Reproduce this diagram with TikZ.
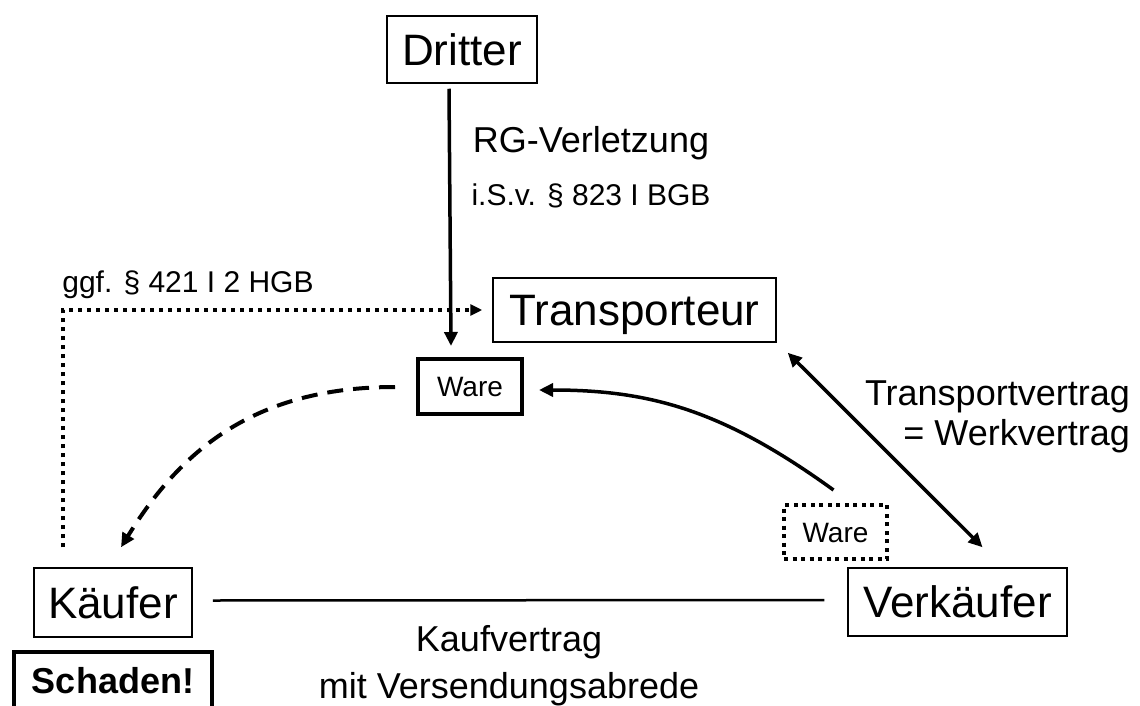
\documentclass[tikz,border=0pt]{standalone}
\usepackage{fontspec}
\setmainfont{Liberation Sans}
\usetikzlibrary{arrows.meta,calc}
\tikzset{
  party/.style={draw, line width=1.5pt, inner sep=0pt, font=\fontsize{44}{48}\selectfont, text height=35pt, text depth=3.5pt},
  warebox/.style={draw, line width=4pt, inner sep=0pt, font=\fontsize{28}{32}\selectfont, text height=22.4pt, text depth=2.2pt},
  waredot/.style={draw, line width=4pt, dash pattern=on 4pt off 4.5pt, inner sep=0pt, font=\fontsize{28}{32}\selectfont, text height=22.4pt, text depth=2.2pt},
  lab/.style={inner sep=0pt, anchor=base},
  big/.style={font=\fontsize{36}{40}\selectfont},
  small/.style={font=\fontsize{30}{34}\selectfont},
  conn/.style={line width=3.5pt},
  tip/.style={-{Triangle[length=14pt,width=13pt]}},
}
\begin{document}
\begin{tikzpicture}[x=1pt,y=-1pt]
\clip (0,0) rectangle (1140,706);
\useasboundingbox (0,0) rectangle (1140,706);
% nodes
\node[party, minimum width=150pt, minimum height=67pt] (Dritter) at (462,49.5) {Dritter};
\node[party, minimum width=283pt, minimum height=64pt] (Transporteur) at (634.5,310) {Transporteur};
\node[warebox, minimum width=104pt, minimum height=55pt] (Ware) at (470,386.5) {Ware};
\node[waredot, minimum width=103pt, minimum height=54pt] (WareD) at (835.5,532) {Ware};
\node[party, minimum width=158pt, minimum height=69pt] (Kaeufer) at (113,602.5) {Käufer};
\node[party, minimum width=219pt, minimum height=68pt] (Verkaeufer) at (957.5,602) {Verkäufer};
\node[draw, line width=4pt, inner sep=0pt, minimum width=198pt, text height=41pt, text depth=60pt, anchor=base,
      font=\bfseries\fontsize{36}{40}\selectfont] (Schaden) at (113,693) {Schaden!};
% labels
\node[lab, big] (rg) at (591,153) {RG-Verletzung};
\node[lab, small] (isv) at (591,205) {i.S.v. § 823 I BGB};
\node[lab, small] (ggf) at (188,292) {ggf. § 421 I 2 HGB};
\node[lab, big, anchor=base east] (tv1) at (1130,405) {Transportvertrag};
\node[lab, big, anchor=base east] (tv2) at (1130,445) {= Werkvertrag};
\node[lab, big] (kv1) at (509,651) {Kaufvertrag};
\node[lab, big] (kv2) at (509,698) {mit Versendungsabrede};
% connectors
\coordinate (dA) at ($(Dritter.south)+(-13,5)$);
\coordinate (dB) at ($(Ware.north)+(-19,-11)$);
\draw[conn, tip] (dA) -- (dB);
\coordinate (gA) at ($(Kaeufer.north west)+(30,-20)$);
\coordinate (gB) at ($(Transporteur.west)+(-10,0)$);
\draw[line width=4pt, dash pattern=on 4pt off 5pt, -{Triangle[length=12pt,width=11pt]}] (gA) |- (gB);
\draw[conn, {Triangle[length=14pt,width=13pt]}-{Triangle[length=14pt,width=13pt]}]
  ($(Transporteur.south east)+(11,10)$) -- ($(Verkaeufer.north)+(25,-20)$);
\draw[line width=2.5pt] ($(Kaeufer.east)+(20,-2)$) -- ($(Verkaeufer.west)+(-23,-2)$);
\draw[conn, tip] ($(WareD.north)+(-2,-13)$) .. controls (723,410) and (650,390) .. ($(Ware.east)+(15,3.5)$);
\draw[line width=4pt, dash pattern=on 16pt off 10pt, tip] ($(Ware.west)+(-21,0.5)$) .. controls (250,387) and (178,455) .. ($(Kaeufer.north)+(8,-20)$);
\end{tikzpicture}
\end{document}
